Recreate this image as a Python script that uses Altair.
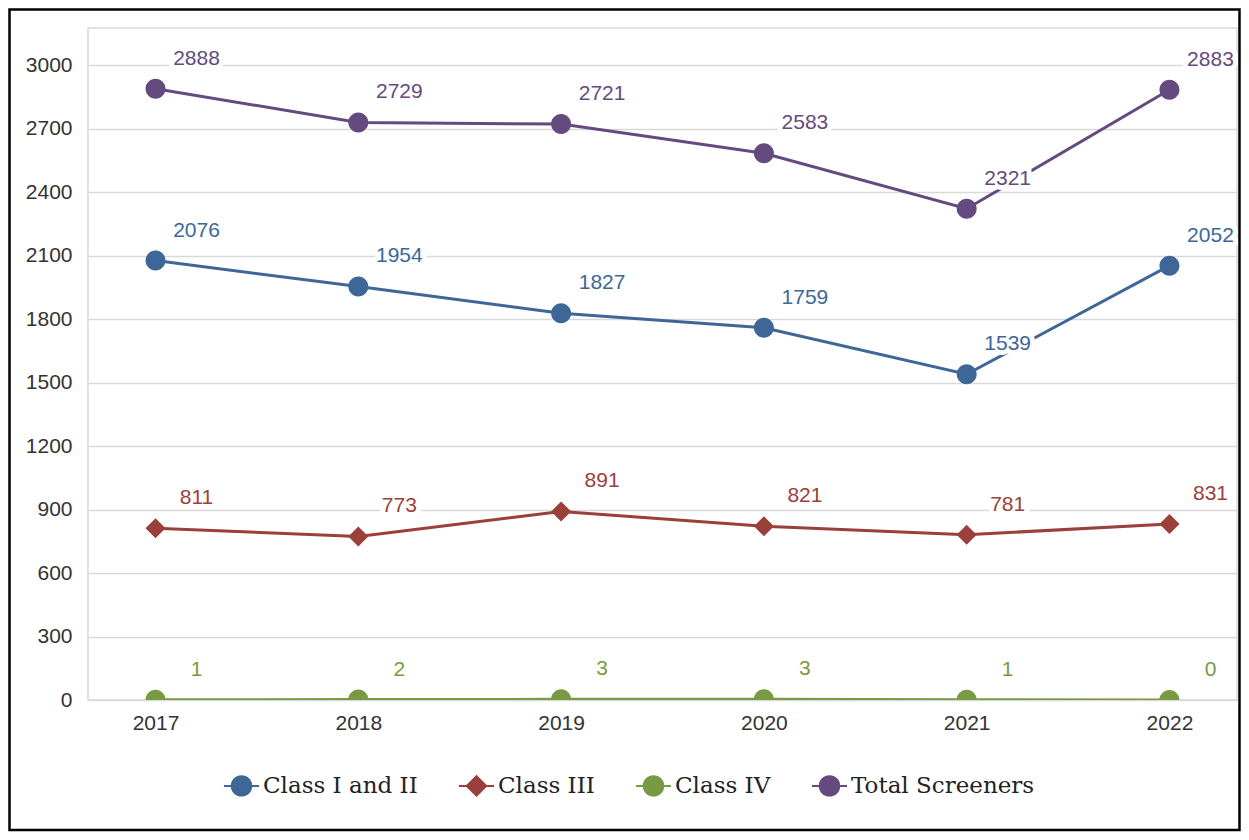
import altair as alt
import pandas as pd

years = ["2017", "2018", "2019", "2020", "2021", "2022"]
series_names = ["Class I and II", "Class III", "Class IV", "Total Screeners"]
class_1_2 = [2076, 1954, 1827, 1759, 1539, 2052]
class_3 = [811, 773, 891, 821, 781, 831]
class_4 = [1, 2, 3, 3, 1, 0]
total_screeners = [2888, 2729, 2721, 2583, 2321, 2883]
y_ticks = [0, 300, 600, 900, 1200, 1500, 1800, 2100, 2400, 2700, 3000]

colors = ["#3E6798", "#9B3F3A", "#789A42", "#654A80"]
circle_path = "M-1.8,0H-1M1,0H1.8M-1,0A1,1 0 1,0 1,0A1,1 0 1,0 -1,0Z"
diamond_path = "M-1.8,0H-1M1,0H1.8M0,-1L1,0L0,1L-1,0Z"
shapes = [circle_path, diamond_path, circle_path, circle_path]

rows = []
for name, vals in zip(series_names, [class_1_2, class_3, class_4, total_screeners]):
    for yr, v in zip(years, vals):
        rows.append({"year": yr, "series": name, "value": v})
df = pd.DataFrame(rows)

num_font = "Liberation Sans"
leg_font = "DejaVu Serif"

x_enc = alt.X(
    "year:O",
    sort=years,
    scale=alt.Scale(type="point", padding=0.333),
    axis=alt.Axis(title=None, labelAngle=0, ticks=False, domain=False, grid=False,
                  labelPadding=12, labelFont=num_font, labelFontSize=21,
                  labelColor="#333333"),
)
y_enc = alt.Y(
    "value:Q",
    scale=alt.Scale(domain=[0, 3175], nice=False, zero=True),
    axis=alt.Axis(values=y_ticks, title=None, ticks=False, domain=False, format="d",
                  gridColor="#D9D9D9", gridWidth=1.5, labelPadding=16,
                  labelFont=num_font, labelFontSize=21, labelColor="#333333"),
)

cscale = alt.Scale(domain=series_names, range=colors)
legend = alt.Legend(
    title=None, orient="none", direction="horizontal", legendX=142, legendY=746,
    labelFont=leg_font, labelFontSize=23, labelColor="#222222", labelLimit=0,
    symbolSize=380, symbolStrokeWidth=2, columnPadding=36, labelOffset=10,
)

base = alt.Chart(df)

lines = base.mark_line(strokeWidth=3, clip=True).encode(
    x=x_enc, y=y_enc,
    color=alt.Color("series:N", scale=cscale, legend=legend),
)

points = base.mark_point(filled=True, size=400, opacity=1, clip=True).encode(
    x=x_enc, y=y_enc,
    color=alt.Color("series:N", scale=cscale, legend=legend),
    stroke=alt.Stroke("series:N", scale=alt.Scale(domain=series_names, range=colors), legend=legend),
    shape=alt.Shape("series:N", scale=alt.Scale(domain=series_names, range=shapes), legend=legend),
    strokeWidth=alt.value(0),
)

halo = base.mark_text(dx=41, dy=-30, font=num_font, fontSize=21, fill="white",
                      stroke="white", strokeWidth=10, strokeJoin="round").encode(
    x=x_enc, y=y_enc, text="value:Q",
)
labels = base.mark_text(dx=41, dy=-30, font=num_font, fontSize=21).encode(
    x=x_enc, y=y_enc, text="value:Q",
    color=alt.Color("series:N", scale=cscale, legend=legend),
)

frame = alt.Chart(alt.Data(values=[{"k": 1}])).mark_rect(
    fillOpacity=0, stroke="black", strokeWidth=2.5
).encode(
    x=alt.value(-78.5), x2=alt.value(1151.5), y=alt.value(-18.5), y2=alt.value(802)
)

chart = alt.layer(lines, points, halo, labels, frame).properties(
    width=1149, height=672,
    autosize=alt.AutoSizeParams(type="none"),
    padding={"left": 80, "top": 20, "right": 4, "bottom": 132},
).configure_view(stroke="#D9D9D9", strokeWidth=1.5)

chart.save("out.html", embed_options={"renderer": "svg", "actions": False})
